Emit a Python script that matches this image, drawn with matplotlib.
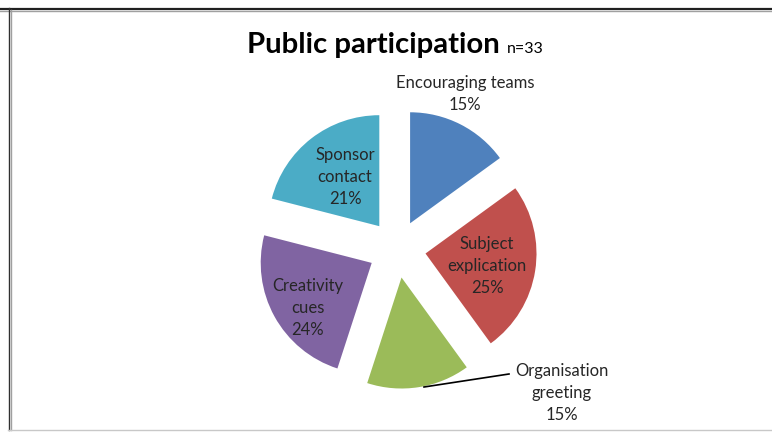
import matplotlib.pyplot as plt
import matplotlib

matplotlib.rcParams['font.family'] = ['Lato', 'DejaVu Sans']

W, H = 772, 432

categories = ['Encouraging teams', 'Subject explication', 'Organisation greeting',
              'Creativity cues', 'Sponsor contact']
shares = [15, 25, 15, 24, 21]
colors = ['#4F81BD', '#C0504D', '#9BBB59', '#8064A2', '#4BACC6']

# label text split the way the chart wraps it
label_lines = [['Encouraging teams'], ['Subject', 'explication'], ['Organisation', 'greeting'],
               ['Creativity', 'cues'], ['Sponsor', 'contact']]
# label centres in pixels (x, y from top)
label_pos = [(465, 94), (487, 266), (562, 393), (308, 308), (345, 177)]


def py(y):
    return H - y


fig = plt.figure(figsize=(W / 100, H / 100), dpi=100)
ax = fig.add_axes([0, 0, 1, 1])

radius = 111
ax.pie(shares, colors=colors, startangle=90, counterclock=False,
       explode=[0.26 * radius] * len(shares), radius=radius,
       center=(397, py(249)), wedgeprops=dict(linewidth=0))

for lines, share, (x, y) in zip(label_lines, shares, label_pos):
    ax.text(x, py(y), '\n'.join(lines + ['%d%%' % share]), ha='center', va='center',
            fontsize=12, color='#262626', linespacing=1.45)

# leader line for the organisation greeting label
ax.plot([424, 509], [py(387), py(374)], color='black', lw=1.2)

ax.text(247, py(53), 'Public participation', fontsize=21.2, fontweight='bold',
        ha='left', va='baseline', color='black')
ax.text(507, py(53), 'n=33', fontsize=11.5, ha='left', va='baseline', color='black')

# chart frame
ax.plot([0, W], [py(8.5), py(8.5)], color='#202020', lw=1.6)
ax.plot([0, W], [py(10.5), py(10.5)], color='#A0A0A0', lw=1)
ax.plot([8.5, 8.5], [py(8), py(430)], color='#303030', lw=1)
ax.plot([10.5, 10.5], [py(10), py(430)], color='#A0A0A0', lw=1)
ax.plot([8, W], [py(429.5), py(429.5)], color='#C8C8C8', lw=1)

ax.set_xlim(0, W)
ax.set_ylim(0, H)
ax.set_aspect('auto')
ax.axis('off')

fig.savefig('out.png', dpi=100)
